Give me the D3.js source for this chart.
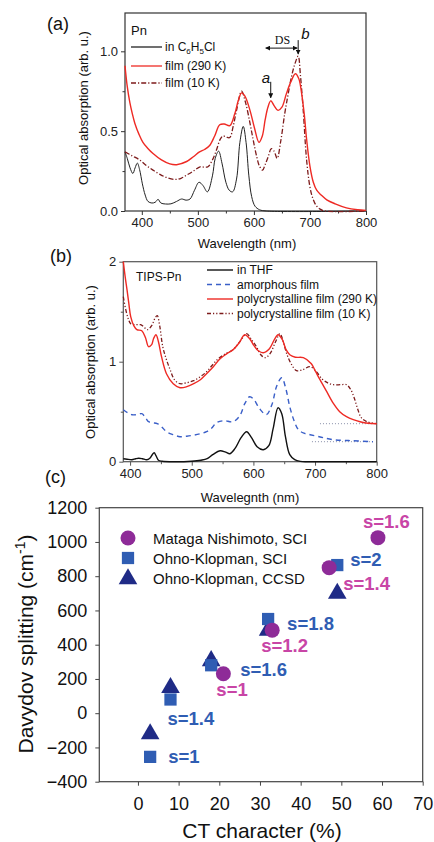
<!DOCTYPE html>
<html>
<head>
<meta charset="utf-8">
<script src="https://cdn.jsdelivr.net/npm/d3@7"></script>
<style>
body { margin: 0; background: #fff; }
svg { font-family: "Liberation Sans", Arial, sans-serif; }
</style>
</head>
<body>
<svg id="fig" width="434" height="842"></svg>
<script>
// ---------- (a) Pn spectra : [wavelength nm, absorption] ----------
var pnSolution = [[370,0.37],[374,0.33],[379,0.27],[384,0.235],[388,0.27],[392,0.30],[396,0.26],[401,0.17],[406,0.10],[411,0.06],[418,0.05],[424,0.055],[429,0.073],[434,0.05],[442,0.044],[452,0.045],[462,0.06],[471,0.075],[479,0.068],[486,0.075],[494,0.13],[502,0.18],[509,0.16],[517,0.12],[526,0.22],[531,0.33],[537,0.375],[543,0.30],[550,0.18],[556,0.13],[562,0.12],[569,0.20],[575,0.43],[581,0.53],[586,0.43],[591,0.22],[596,0.09],[602,0.03],[610,0.008],[622,0],[800,0]];
var pnFilm290 = [[370,0.91],[374,0.78],[378.6,0.68],[383,0.61],[387.5,0.55],[395,0.48],[402,0.43],[410,0.395],[420,0.36],[435,0.32],[450,0.295],[462,0.29],[480,0.31],[492,0.34],[503,0.37],[512,0.385],[521,0.41],[530,0.47],[539,0.54],[547,0.545],[557,0.535],[566,0.61],[572,0.69],[578,0.74],[584,0.72],[593,0.63],[601,0.52],[609,0.43],[615,0.47],[620,0.57],[625,0.65],[630,0.69],[636,0.66],[643,0.63],[650,0.65],[658,0.735],[666,0.81],[674,0.86],[680,0.83],[685,0.74],[690,0.6],[694,0.45],[700,0.28],[706,0.18],[712,0.13],[720,0.10],[730,0.07],[745,0.045],[765,0.02],[785,0.008],[800,0.004]];
var pnFilm10 = [[370,0.37],[383,0.345],[396,0.32],[408,0.285],[420,0.256],[432,0.23],[444,0.21],[459,0.198],[470,0.205],[480,0.225],[492,0.25],[504,0.277],[511,0.275],[518,0.277],[526,0.32],[533,0.38],[540,0.45],[545,0.47],[551,0.462],[557,0.46],[563,0.53],[569,0.63],[578,0.75],[585,0.68],[593,0.55],[599,0.44],[605,0.34],[610,0.28],[615.5,0.256],[620,0.29],[625.5,0.34],[631,0.39],[636,0.375],[641.5,0.33],[648,0.44],[655,0.61],[661,0.73],[667,0.84],[673,0.92],[679,0.97],[683,0.85],[688,0.63],[694,0.32],[700,0.15],[705,0.08],[711,0.035],[718,0.012],[726,0],[800,0]];

// ---------- (b) TIPS-Pn spectra ----------
var tipsTHF = [[389,0.03],[395,0.025],[403,0.02],[409,0.03],[414,0.035],[420,0.03],[427,0.02],[432,0.035],[436,0.07],[439,0.09],[442,0.06],[446,0.015],[452,0.005],[470,0],[500,0.005],[515,0.015],[525,0.03],[534,0.07],[546,0.11],[555,0.095],[562,0.08],[570,0.13],[580,0.24],[589,0.30],[597,0.24],[606,0.15],[616,0.12],[625,0.16],[632,0.33],[640,0.54],[646,0.48],[652,0.25],[659,0.07],[667,0.02],[676,0.003],[690,0],[800,0]];
var tipsAmorphous = [[389,0.52],[396,0.49],[403,0.47],[410,0.47],[419,0.48],[425,0.44],[430,0.40],[437,0.39],[444,0.38],[451,0.35],[459,0.30],[470,0.27],[481,0.25],[492,0.255],[503,0.265],[514,0.28],[524,0.30],[533,0.34],[540,0.39],[552,0.41],[567,0.40],[578,0.46],[586,0.58],[594,0.65],[601,0.62],[610,0.53],[621,0.47],[630,0.57],[638,0.76],[646,0.84],[653,0.72],[659,0.55],[666,0.41],[673,0.32],[682,0.285],[692,0.27],[710,0.245],[730,0.22],[760,0.21],[794,0.20]];
var tipsPoly290 = [[389,2.0],[392,1.85],[395,1.72],[398,1.58],[401,1.45],[406,1.36],[411,1.32],[419,1.31],[425,1.24],[430,1.15],[435,1.17],[438,1.23],[442,1.27],[446,1.20],[451,1.05],[459,0.88],[470,0.78],[481,0.74],[492,0.75],[503,0.78],[514,0.82],[524,0.88],[535,0.95],[546,1.03],[557,1.08],[567,1.12],[577,1.19],[586,1.27],[594,1.23],[601,1.16],[608,1.11],[616,1.09],[626,1.13],[634,1.22],[640,1.27],[647,1.22],[653,1.12],[659,1.07],[668,1.045],[681,1.04],[694,0.98],[701,0.90],[708,0.82],[719,0.70],[730,0.58],[740,0.50],[751,0.45],[762,0.42],[773,0.40],[786,0.385],[800,0.38]];
var tipsPoly10 = [[389,1.65],[393,1.52],[397,1.43],[401,1.38],[410,1.37],[417,1.37],[422,1.35],[428,1.32],[435,1.36],[440,1.43],[444,1.46],[448,1.36],[453,1.15],[459,1.02],[465,0.92],[472,0.82],[481,0.78],[492,0.79],[503,0.81],[514,0.85],[524,0.90],[534,0.97],[543,1.03],[555,1.08],[567,1.12],[578,1.20],[589,1.28],[597,1.22],[605,1.15],[612,1.07],[619,1.04],[627,1.08],[636,1.20],[643,1.28],[649,1.19],[654,1.08],[662,0.97],[670,0.91],[680,0.92],[692,0.95],[702,0.90],[711,0.83],[720,0.79],[730,0.77],[741,0.77],[751,0.77],[758,0.72],[764,0.63],[769,0.53],[775,0.44],[784,0.40],[800,0.38]];
// dotted reference baselines (b): [start nm, end nm, level]
var tipsBaselines = [[708,800,0.38],[695,795,0.20]];

// ---------- (c) Davydov splitting vs CT character ----------
var mnCT = [21, 33, 47, 59];
var mnDS = [230, 485, 850, 1025];
var mnS = ["s=1", "s=1.2", "s=1.4", "s=1.6"];
var okSciCT = [3, 8, 18, 32, 49];
var okSciDS = [-255, 80, 280, 550, 865];
var okSciS = ["s=1", "s=1.4", "s=1.6", "s=1.8", "s=2"];
var okCcsdCT = [3, 8, 18, 32, 49];
var okCcsdDS = [-115, 155, 312, 490, 705];

var legendA = ["in C6H5Cl", "film (290 K)", "film (10 K)"];
var legendB = ["in THF", "amorphous film", "polycrystalline film (290 K)", "polycrystalline film (10 K)"];
var legendC = ["Mataga Nishimoto, SCI", "Ohno-Klopman, SCI", "Ohno-Klopman, CCSD"];

var RED = "#ee2a24", DARKRED = "#7d1b1b", BLUE = "#3a5fc8";
var PURPLE = "#8e2b98", SQBLUE = "#2f5db3", NAVY = "#1f2b86", MAGENTA = "#c845a6";

var svg = d3.select("#fig");

function frame(x, y, xMajor, xMinor, yMajor, yMinor, fmtY, color) {
  var g = svg.append("g").attr("class", "frame");
  var y0 = y.range()[0], x0 = x.range()[0];
  g.append("g").attr("transform", "translate(0," + y0 + ")")
    .call(d3.axisBottom(x).tickValues(xMinor).tickSize(2.5).tickFormat(""));
  g.append("g").attr("transform", "translate(0," + y0 + ")")
    .call(d3.axisBottom(x).tickValues(xMajor).tickSize(4).tickPadding(3).tickFormat(d3.format("d")));
  if (yMinor.length)
    g.append("g").attr("transform", "translate(" + x0 + ",0)")
      .call(d3.axisLeft(y).tickValues(yMinor).tickSize(2.5).tickFormat(""));
  g.append("g").attr("transform", "translate(" + x0 + ",0)")
    .call(d3.axisLeft(y).tickValues(yMajor).tickSize(4).tickPadding(3).tickFormat(fmtY));
  g.selectAll(".domain").remove();
  g.selectAll(".tick line").attr("stroke", color);
  g.selectAll(".tick text").attr("font-size", 13).attr("fill", "#222")
    .attr("font-family", "Liberation Sans, Arial, sans-serif");
  svg.append("rect")
    .attr("x", x.range()[0]).attr("y", y.range()[1])
    .attr("width", x.range()[1] - x.range()[0]).attr("height", y.range()[0] - y.range()[1])
    .attr("fill", "none").attr("stroke", color).attr("stroke-width", 1.2);
}

function curve(x, y, data, color, width, dash) {
  var line = d3.line().x(function(d){ return x(d[0]); }).y(function(d){ return y(d[1]); })
    .curve(d3.curveCatmullRom.alpha(0.5));
  svg.append("path").datum(data).attr("d", line)
    .attr("fill", "none").attr("stroke", color).attr("stroke-width", width)
    .attr("stroke-dasharray", dash || null).attr("stroke-linejoin", "round");
}

function label(x, y, txt, size, opts) {
  opts = opts || {};
  var t = svg.append("text").attr("x", x).attr("y", y).attr("font-size", size)
    .attr("fill", opts.fill || "#111").attr("text-anchor", opts.anchor || "start").text(txt);
  if (opts.weight) t.attr("font-weight", opts.weight);
  if (opts.style) t.attr("font-style", opts.style);
  if (opts.family) t.attr("font-family", opts.family);
  return t;
}

// ===================== panel (a) =====================
var xA = d3.scaleLinear().domain([370, 800]).range([125, 366]);
var yA = d3.scaleLinear().domain([0, 1.24]).range([211, 13]);
frame(xA, yA, [400, 500, 600, 700, 800], [450, 550, 650, 750], [0, 0.5, 1.0], [0.25, 0.75],
  d3.format(".1f"), "#333");
curve(xA, yA, pnSolution, "#222", 1);
curve(xA, yA, pnFilm10, DARKRED, 1.3, "5,2,1.2,2");
curve(xA, yA, pnFilm290, RED, 1.4);

label(47, 30, "(a)", 18);
label(247, 248, "Wavelength (nm)", 13, {anchor: "middle"});
svg.append("text").attr("transform", "translate(83,108) rotate(-90)").attr("dy", "0.35em")
  .attr("text-anchor", "middle").attr("font-size", 13).attr("fill", "#111")
  .text("Optical absorption (arb. u.)");
label(131, 35, "Pn", 13);
var legA = [{c: "#222", d: null}, {c: RED, d: null}, {c: DARKRED, d: "5,2,1.2,2"}];
[47, 66, 83].forEach(function(ly, i) {
  svg.append("line").attr("x1", 131).attr("x2", 162).attr("y1", ly).attr("y2", ly)
    .attr("stroke", legA[i].c).attr("stroke-width", 1.3).attr("stroke-dasharray", legA[i].d);
  if (i === 0) {
    var t = label(165, ly + 4, "", 12);
    t.append("tspan").text("in C");
    t.append("tspan").attr("font-size", 8).attr("dy", 3).text("6");
    t.append("tspan").attr("dy", -3).text("H");
    t.append("tspan").attr("font-size", 8).attr("dy", 3).text("5");
    t.append("tspan").attr("dy", -3).text("Cl");
  } else {
    label(165, ly + 4, legendA[i], 12);
  }
});
// annotations a, b, DS
var peakA = pnFilm290.find(function(d){ return d[0] === 630; });
var peakB = pnFilm10.find(function(d){ return d[0] === 679; });
svg.append("defs").html(
  '<marker id="ah" viewBox="0 0 10 10" refX="9" refY="5" markerWidth="5" markerHeight="5" orient="auto-start-reverse">' +
  '<path d="M0,0 L10,5 L0,10 z" fill="#111"/></marker>');
svg.append("line").attr("x1", xA(peakA[0])).attr("x2", xA(peakA[0]))
  .attr("y1", yA(peakA[1]) - 19).attr("y2", yA(peakA[1]) - 3)
  .attr("stroke", "#111").attr("marker-end", "url(#ah)");
label(xA(peakA[0]) - 9, yA(peakA[1]) - 18, "a", 15, {style: "italic"});
svg.append("line").attr("x1", xA(peakB[0])).attr("x2", xA(peakB[0]))
  .attr("y1", yA(peakB[1]) - 16).attr("y2", yA(peakB[1]) - 2)
  .attr("stroke", "#111").attr("marker-end", "url(#ah)");
label(xA(peakB[0]) + 3, yA(peakB[1]) - 17, "b", 15, {style: "italic"});
svg.append("line").attr("x1", xA(peakA[0]) - 5).attr("x2", xA(peakB[0]) - 1)
  .attr("y1", yA(peakB[1]) - 8).attr("y2", yA(peakB[1]) - 8)
  .attr("stroke", "#111").attr("marker-start", "url(#ah)").attr("marker-end", "url(#ah)");
label((xA(peakA[0]) + xA(peakB[0])) / 2 - 2, yA(peakB[1]) - 12, "DS", 12,
  {anchor: "middle", family: "Liberation Serif, serif"});

// ===================== panel (b) =====================
var xB = d3.scaleLinear().domain([389, 800]).range([123.3, 376.7]);
var yB = d3.scaleLinear().domain([0, 2]).range([461.7, 261.7]);
frame(xB, yB, [400, 500, 600, 700, 800], [450, 550, 650, 750], [0, 1, 2], [0.5, 1.5],
  d3.format("d"), "#555");
tipsBaselines.forEach(function(b) {
  svg.append("line").attr("x1", xB(b[0])).attr("x2", xB(b[1]))
    .attr("y1", yB(b[2])).attr("y2", yB(b[2]))
    .attr("stroke", "#8a90aa").attr("stroke-width", 1).attr("stroke-dasharray", "1,2");
});
curve(xB, yB, tipsTHF, "#111", 1.4);
curve(xB, yB, tipsAmorphous, BLUE, 1.4, "5,4");
curve(xB, yB, tipsPoly10, DARKRED, 1.3, "4,2,1.2,2,1.2,2");
curve(xB, yB, tipsPoly290, RED, 1.4);

label(50, 262, "(b)", 18);
label(250, 502, "Wavelegnth (nm)", 13, {anchor: "middle"});
svg.append("text").attr("transform", "translate(90,362) rotate(-90)").attr("dy", "0.35em")
  .attr("text-anchor", "middle").attr("font-size", 13).attr("fill", "#111")
  .text("Optical absorption (arb. u.)");
label(136, 281, "TIPS-Pn", 12);
var legB = [{c: "#111", d: null}, {c: BLUE, d: "5,4"}, {c: RED, d: null}, {c: DARKRED, d: "4,2,1.2,2,1.2,2"}];
legendB.forEach(function(txt, i) {
  var ly = 270 + i * 14.5;
  svg.append("line").attr("x1", 207).attr("x2", 233).attr("y1", ly).attr("y2", ly)
    .attr("stroke", legB[i].c).attr("stroke-width", 1.4).attr("stroke-dasharray", legB[i].d);
  label(237, ly + 4, txt, 12);
});

// ===================== panel (c) =====================
var xC = d3.scaleLinear().domain([-9.5, 70]).range([99.3, 422.7]);
var yC = d3.scaleLinear().domain([-400, 1200]).range([781.7, 507.7]);
var gC = svg.append("g");
gC.append("g").attr("transform", "translate(0,781.7)")
  .call(d3.axisBottom(xC).tickValues(d3.range(0, 71, 10)).tickSize(4).tickPadding(12)
    .tickFormat(d3.format("d")));
gC.append("g").attr("transform", "translate(99.3,0)")
  .call(d3.axisLeft(yC).tickValues(d3.range(-400, 1201, 200)).tickSize(4).tickPadding(8)
    .tickFormat(d3.format("d")));
gC.selectAll(".domain").remove();
gC.selectAll(".tick line").attr("stroke", "#444");
gC.selectAll(".tick text").attr("font-size", 18).attr("fill", "#111")
  .attr("font-family", "Liberation Sans, Arial, sans-serif");
svg.append("rect").attr("x", 99.3).attr("y", 507.7).attr("width", 323.4).attr("height", 274)
  .attr("fill", "none").attr("stroke", "#444").attr("stroke-width", 1.2);

label(45, 483, "(c)", 18);
label(262, 838, "CT character (%)", 21, {anchor: "middle"});
var yt = svg.append("text").attr("transform", "translate(26,644) rotate(-90)").attr("dy", "0.35em")
  .attr("text-anchor", "middle").attr("font-size", 21).attr("fill", "#111");
yt.append("tspan").text("Davydov splitting (cm");
yt.append("tspan").attr("font-size", 14).attr("dy", -8).text("-1");
yt.append("tspan").attr("dy", 8).text(")");

var tri = d3.symbol().type(d3.symbolTriangle).size(150);
var sq = d3.symbol().type(d3.symbolSquare).size(150);
okCcsdCT.forEach(function(c, i) {
  svg.append("path").attr("d", tri).attr("fill", NAVY)
    .attr("transform", "translate(" + xC(c) + "," + (yC(okCcsdDS[i]) + 1) + ")");
});
okSciCT.forEach(function(c, i) {
  svg.append("path").attr("d", sq).attr("fill", SQBLUE)
    .attr("transform", "translate(" + xC(c) + "," + yC(okSciDS[i]) + ")");
});
mnCT.forEach(function(c, i) {
  svg.append("circle").attr("cx", xC(c)).attr("cy", yC(mnDS[i])).attr("r", 7.5).attr("fill", PURPLE);
});

// s-parameter labels: pixel offsets from each marker
var mnOff = [[-7, 22], [-11, 22], [14, 22], [-15, -10]];
var okOff = [[18, 6], [-3, 25], [29, 11], [19, 11], [13, 1]];
mnCT.forEach(function(c, i) {
  label(xC(c) + mnOff[i][0], yC(mnDS[i]) + mnOff[i][1], mnS[i], 18.5, {weight: "bold", fill: MAGENTA});
});
okSciCT.forEach(function(c, i) {
  label(xC(c) + okOff[i][0], yC(okSciDS[i]) + okOff[i][1], okSciS[i], 18.5, {weight: "bold", fill: SQBLUE});
});

// legend (c)
[538, 558, 578].forEach(function(ly, i) {
  if (i === 0) svg.append("circle").attr("cx", 128).attr("cy", ly).attr("r", 7.5).attr("fill", PURPLE);
  if (i === 1) svg.append("path").attr("d", sq).attr("fill", SQBLUE).attr("transform", "translate(128," + ly + ")");
  if (i === 2) svg.append("path").attr("d", tri).attr("fill", NAVY).attr("transform", "translate(128," + (ly + 1) + ")");
  label(153, ly + 5.5, legendC[i], 15);
});
</script>
</body>
</html>
